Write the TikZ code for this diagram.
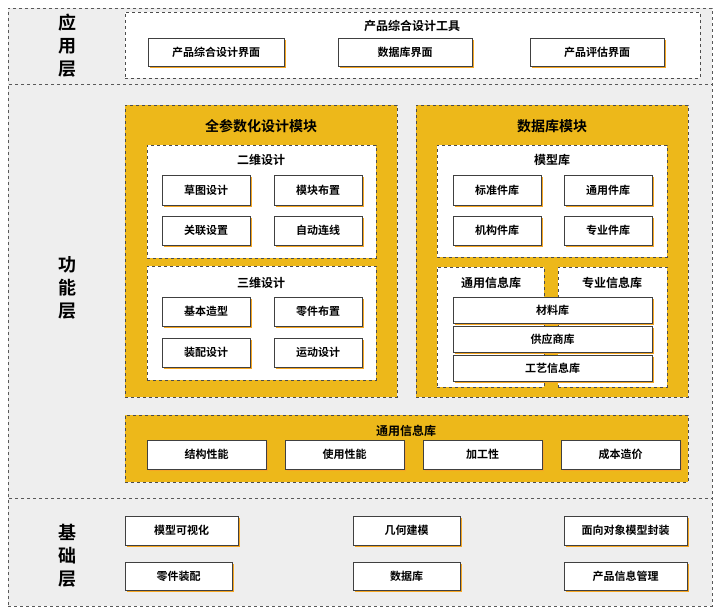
\documentclass[tikz,border=0pt]{standalone}
\usepackage{fontspec}
\setmainfont{Noto Sans CJK SC Bold}
\usetikzlibrary{shadows}
\definecolor{ylw}{HTML}{EDB81A}
\definecolor{gry}{HTML}{EEEEEE}
\definecolor{shd}{HTML}{F5A623}
\newcommand{\bx}[7]{% name x1 y1 x2 y2 style text
 \pgfmathsetmacro{\cx}{(#2+#4)/2}\pgfmathsetmacro{\cy}{(#3+#5)/2}
 \pgfmathsetmacro{\ww}{#4-#2}\pgfmathsetmacro{\hh}{#5-#3}
 \node[#6,minimum width=\ww pt,minimum height=\hh pt] (#1) at (\cx,\cy) {#7};}
\tikzset{
 band/.style={draw=gray!70!black,dashed,fill=gry,inner sep=0},
 wpanel/.style={draw=black!70,dashed,fill=white,inner sep=0},
 ypanel/.style={draw=black!70,dashed,fill=ylw,inner sep=0},
 btn/.style={draw=black!75,fill=white,inner sep=0,font=\fontsize{11}{13}\selectfont,
   drop shadow={shadow xshift=2pt,shadow yshift=-2pt,fill=shd,opacity=1}},
 ttl/.style={font=\fontsize{12}{14}\selectfont},
 big/.style={font=\fontsize{14}{16}\selectfont},
 lay/.style={font=\fontsize{18}{23}\selectfont,align=center},
}
\begin{document}
\begin{tikzpicture}[x=1pt,y=-1pt]
\useasboundingbox (0,0) rectangle (720,612);
\fill[white] (0,0) rectangle (720,612);
\bx{b1}{8}{8}{712}{84}{band}{}
\bx{b2}{8}{84}{712}{498}{band}{}
\bx{b3}{8}{498}{712}{606}{band}{}
\node[lay] (l1) at (67,46) {应\\用\\层};
\node[lay] (l2) at (67,288) {功\\能\\层};
\node[lay] (l3) at (67,556) {基\\础\\层};
% app
\bx{app}{125}{12}{700}{78}{wpanel}{}
\node[ttl] (appt) at (412,26) {产品综合设计工具};
\bx{a1}{148}{38}{284}{66}{btn}{产品综合设计界面}
\bx{a2}{338}{38}{472}{66}{btn}{数据库界面}
\bx{a3}{530}{38}{664}{66}{btn}{产品评估界面}
% left module
\bx{lm}{125}{105}{397}{397}{ypanel}{}
\node[big] (lmt) at (261,126) {全参数化设计模块};
\bx{p2}{147}{145}{376}{258}{wpanel}{}
\node[ttl] (p2t) at (261,160) {二维设计};
\bx{c1}{162}{175}{250}{205}{btn}{草图设计}
\bx{c2}{274}{175}{362}{205}{btn}{模块布置}
\bx{c3}{162}{216}{250}{245}{btn}{关联设置}
\bx{c4}{274}{216}{362}{245}{btn}{自动连线}
\bx{p3}{147}{266}{376}{380}{wpanel}{}
\node[ttl] (p3t) at (261,283) {三维设计};
\bx{d1}{162}{297}{250}{326}{btn}{基本造型}
\bx{d2}{274}{297}{362}{326}{btn}{零件布置}
\bx{d3}{162}{338}{250}{367}{btn}{装配设计}
\bx{d4}{274}{338}{362}{367}{btn}{运动设计}
% right module
\bx{rm}{416}{105}{688}{397}{ypanel}{}
\node[big] (rmt) at (552,126) {数据库模块};
\bx{mk}{437}{145}{667}{257}{wpanel}{}
\node[ttl] (mkt) at (552,160) {模型库};
\bx{e1}{453}{175}{541}{205}{btn}{标准件库}
\bx{e2}{564}{175}{652}{205}{btn}{通用件库}
\bx{e3}{453}{216}{541}{245}{btn}{机构件库}
\bx{e4}{564}{216}{652}{245}{btn}{专业件库}
\bx{ty}{437}{267}{544}{387}{wpanel}{}
\bx{zy}{558}{267}{667}{387}{wpanel}{}
\node[ttl] (tyt) at (491,283) {通用信息库};
\node[ttl] (zyt) at (612,283) {专业信息库};
\bx{f1}{453}{297}{652}{323}{btn}{材料库}
\bx{f2}{453}{326}{652}{352}{btn}{供应商库}
\bx{f3}{453}{355}{652}{381}{btn}{工艺信息库}
% bottom yellow
\bx{bm}{125}{415}{688}{482}{ypanel}{}
\node[ttl] (bmt) at (406,431) {通用信息库};
\bx{g1}{147}{440}{266}{469}{btn}{结构性能}
\bx{g2}{285}{440}{404}{469}{btn}{使用性能}
\bx{g3}{423}{440}{542}{469}{btn}{加工性}
\bx{g4}{561}{440}{680}{469}{btn}{成本造价}
% base
\bx{h1}{125}{516}{238}{545}{btn}{模型可视化}
\bx{h2}{353}{516}{460}{545}{btn}{几何建模}
\bx{h3}{564}{516}{687}{545}{btn}{面向对象模型封装}
\bx{h4}{125}{562}{232}{590}{btn}{零件装配}
\bx{h5}{353}{562}{460}{590}{btn}{数据库}
\bx{h6}{564}{562}{687}{590}{btn}{产品信息管理}
\end{tikzpicture}
\end{document}
